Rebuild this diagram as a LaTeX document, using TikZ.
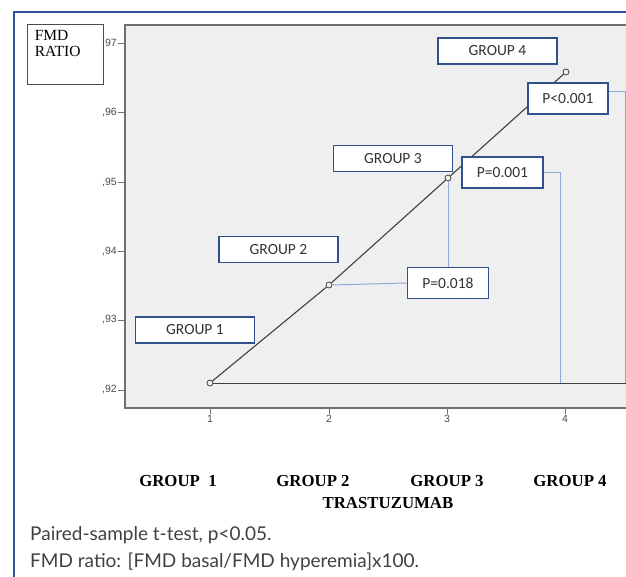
\documentclass[tikz,border=0pt]{standalone}
\usepackage{fontspec}
\setmainfont{Liberation Serif}
\newfontfamily\calibri{Carlito}
\newfontfamily\arialfont{Liberation Sans}
\newfontfamily\latofont{Lato}
\usetikzlibrary{positioning}
\definecolor{frameblue}{HTML}{2F5597}
\definecolor{boxblue}{HTML}{2F528F}
\definecolor{leaderblue}{HTML}{8EAADB}
\definecolor{plotgray}{HTML}{EFEFEF}
\definecolor{axisgray}{HTML}{707070}

\tikzset{
  grpbox/.style={draw=boxblue, line width=1.6pt, fill=white, inner sep=0pt,
    minimum width=119pt, minimum height=26pt,
    font=\calibri\fontsize{15.5}{18}\selectfont, text=black!80},
  pbox/.style={grpbox, minimum width=81pt, minimum height=31pt},
  pline/.style={leaderblue, line width=1pt},
  datapt/.style={circle, draw=black!75, line width=0.8pt, inner sep=0pt, minimum size=6pt},
  ticklab/.style={font=\arialfont\fontsize{10.5}{12}\selectfont, text=black!70, inner sep=1pt},
  grplab/.style={font=\bfseries\fontsize{16.8}{19}\selectfont},
}

\begin{document}
\begin{tikzpicture}[x=1pt, y=-1pt]
  \useasboundingbox (0,0) rectangle (626,577);
  % frame and plot area
  \draw [frameblue, line width=1.5pt] (14,577) -- (14,12) -- (626,12);
  \fill [plotgray] (125,25) rectangle (626,408);
  \draw [axisgray, line width=1.6pt] (626,25) -- (125,25) -- (125,408) -- (626,408);

  % y axis
  \foreach \v/\y in {97/44, 96/113, 95/183, 94/252, 93/320, 92/390} {
    \draw [axisgray, line width=1pt] (118,\y) -- (125,\y);
    \node (y\v) [ticklab, anchor=east] at (118,\y) {,\v};
  }
  % x axis
  \foreach \n/\x in {1/210, 2/329, 3/447, 4/565} {
    \draw [axisgray, line width=1pt] (\x,408) -- (\x,414);
    \node (x\n) [ticklab, anchor=north] at (\x,414) {\n};
  }

  \node (ratiobox) [draw=black!70, line width=0.8pt, minimum width=76pt, minimum height=60pt] at (65,54) {};
  \node (ratiolab) [anchor=north west, align=left, inner sep=0pt, font=\fontsize{15.5}{16}\selectfont]
    at ([xshift=8pt, yshift=-7pt]ratiobox.north west) {FMD\\RATIO};

  % data
  \node (p1) [datapt] at (210,383) {};
  \node (p2) [datapt] at (329,285) {};
  \node (p3) [datapt] at (448,178) {};
  \node (p4) [datapt] at (566,72) {};
  \coordinate (hend) at (626,383);
  \draw [black!75, line width=1.1pt] (p1) -- (p2) -- (p3) -- (p4);
  \draw [black!75, line width=1pt] (p1.east) -- (hend);

  % p-value leaders
  \coordinate (c001) at (560,383);
  \coordinate (c0001) at (625,383);
  \node (p018) [pbox] at (448,283) {P=0.018};
  \node (p001) [pbox] at (502.5,172.5) {P=0.001};
  \node (p0001) [pbox, minimum width=80pt] at (568,98.5) {P<0.001};
  \draw [pline] (p2.east) -- (p018.west);
  \draw [pline] (p018.north -| p3) -- (p3.south);
  \draw [pline] (p001.east) -- (p001.east -| c001) -- (c001);
  \draw [pline] ([yshift=7pt]p0001.east) -- ([yshift=7pt]p0001.east -| c0001) -- (c0001);

  \node (g1) [grpbox] at (195,330) {GROUP 1};
  \node (g2) [grpbox] at (278.5,249.5) {GROUP 2};
  \node (g3) [grpbox] at (393,158.5) {GROUP 3};
  \node (g4) [grpbox] at (497.5,51) {GROUP 4};

  % axis titles
  \node (l1) [grplab] at (178,481) {GROUP\ \ 1};
  \node (l2) [grplab] at (313,481) {GROUP 2};
  \node (l3) [grplab] at (447,481) {GROUP 3};
  \node (l4) [grplab] at (570,481) {GROUP 4};
  \node (xtitle) [grplab] at (388,503) {TRASTUZUMAB};

  \node (note1) [anchor=west, inner sep=0pt, font=\latofont\fontsize{19}{22}\selectfont, text=black!75] at (30,535) {Paired-sample t-test, p<0.05.};
  \node (note2) [anchor=west, inner sep=0pt, font=\latofont\fontsize{19}{22}\selectfont, text=black!75] at (30,562) {FMD ratio: [FMD basal/FMD hyperemia]x100.};
\end{tikzpicture}
\end{document}
